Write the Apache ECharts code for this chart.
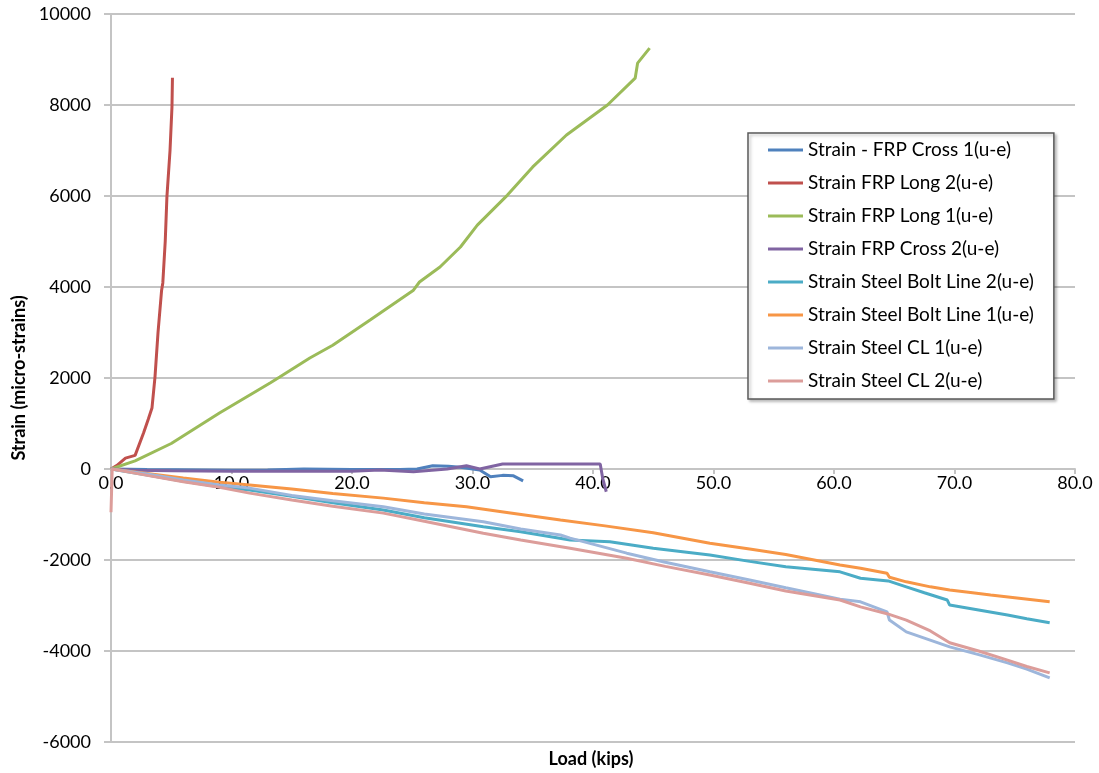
<!DOCTYPE html>
<html>
<head>
<meta charset="utf-8">
<title>Strain vs Load</title>
<script src="https://cdn.jsdelivr.net/npm/echarts@6/dist/echarts.min.js"></script>
<style>
  html, body { margin: 0; padding: 0; background: #fff; }
  #chart { width: 1099px; height: 773px; }
</style>
</head>
<body>
<div id="chart"></div>
<script>
// [load (kips), strain (micro-strains)]
const frpCross1 = [[0, 0], [3, -10], [7.5, -20], [10, -30], [13, -20], [16, 0], [20, -10], [24, -10], [25.4, 0], [26.7, 70], [28, 60], [29, 40], [30.6, -20], [31.5, -170], [32.5, -140], [33.4, -150], [34.2, -260]];
const frpLong2 = [[0, 0], [0.5, 80], [1.2, 240], [2.0, 300], [2.7, 790], [3.1, 1100], [3.4, 1340], [3.65, 2020], [3.9, 2990], [4.2, 3930], [4.3, 4090], [4.5, 5000], [4.64, 5980], [4.9, 7010], [5.06, 7960], [5.1, 8600]];
const frpLong1 = [[0, 0], [2, 180], [5, 560], [9, 1230], [13.2, 1890], [14, 2020], [16.5, 2440], [18.4, 2720], [21.5, 3275], [25.1, 3930], [25.6, 4110], [27.3, 4440], [29, 4880], [30.4, 5360], [32.9, 6020], [35, 6640], [37.8, 7340], [41.2, 8000], [43.5, 8590], [43.7, 8920], [44.7, 9250]];
const frpCross2 = [[0, 0], [2, -30], [5, -40], [10, -50], [15, -50], [20, -50], [22.3, -20], [25.1, -60], [27.9, 0], [29.5, 70], [30.6, 0], [32.5, 110], [36, 110], [40.6, 110], [40.8, -200], [41.1, -500]];
const boltLine2 = [[0, 0], [3, -130], [6, -270], [9, -390], [11.5, -460], [15, -600], [18.4, -740], [22.6, -900], [26, -1070], [30.9, -1270], [34, -1380], [38.1, -1560], [41.4, -1600], [45, -1740], [49.7, -1890], [53, -2030], [56, -2150], [60.5, -2260], [62.2, -2400], [64.5, -2460], [66, -2590], [67.5, -2720], [69.4, -2880], [69.6, -2990], [72, -3100], [74.4, -3210], [76, -3290], [77.9, -3380]];
const boltLine1 = [[0, 0], [3, -100], [6, -200], [9, -290], [11.5, -350], [15, -440], [18.4, -540], [22.6, -640], [26, -740], [29.5, -830], [33, -960], [37.3, -1120], [41, -1250], [45, -1400], [49.7, -1630], [53, -1760], [56, -1880], [60.5, -2110], [62.2, -2180], [64.4, -2290], [64.6, -2380], [66, -2480], [68, -2590], [69.6, -2660], [71.5, -2720], [73, -2770], [75, -2830], [77.9, -2920]];
const steelCL1 = [[0, 0], [3, -110], [6, -240], [9, -350], [11.5, -420], [15, -580], [18.4, -700], [22.6, -830], [26, -990], [30.9, -1160], [34, -1320], [37.3, -1450], [38.1, -1520], [42.8, -1850], [46, -2050], [49.7, -2260], [53, -2440], [56, -2610], [60.5, -2860], [62.2, -2920], [64.4, -3140], [64.6, -3320], [66, -3580], [69.6, -3910], [72, -4080], [74.4, -4260], [76, -4400], [77.9, -4590]];
const steelCL2 = [[0, -950], [0.1, 0], [3, -140], [6, -280], [9, -400], [11.5, -530], [15, -680], [18.4, -820], [22.6, -970], [26, -1150], [30.9, -1410], [34, -1560], [38.1, -1740], [42.8, -1960], [46, -2140], [49.7, -2330], [53, -2510], [56, -2680], [60.5, -2880], [62.2, -3030], [64.4, -3180], [66, -3320], [68, -3560], [69.6, -3820], [72, -4000], [74.4, -4200], [76, -4340], [77.9, -4480]];

const seriesNames = [
  "Strain - FRP Cross 1(u-e)",
  "Strain FRP Long 2(u-e)",
  "Strain FRP Long 1(u-e)",
  "Strain FRP Cross 2(u-e)",
  "Strain Steel Bolt Line 2(u-e)",
  "Strain Steel Bolt Line 1(u-e)",
  "Strain Steel CL 1(u-e)",
  "Strain Steel CL 2(u-e)"
];
const seriesData = [frpCross1, frpLong2, frpLong1, frpCross2, boltLine2, boltLine1, steelCL1, steelCL2];
const colors = ["#4F81BD", "#C0504D", "#9BBB59", "#8064A2", "#4BACC6", "#F79646", "#9DB6DB", "#DC9D9A"];

const font = "Lato";
const gridGray = "#c4c4c4";

const makeSeries = (name, data, i) => {
  return {
    name: name,
    type: "line",
    data: data,
    showSymbol: false,
    symbol: "none",
    smooth: false,
    lineStyle: { width: 3, color: colors[i] },
    itemStyle: { color: colors[i] },
    z: 2 + i
  };
};

const chart = echarts.init(document.getElementById("chart"));
chart.setOption({
  animation: false,
  color: colors,
  grid: { left: 111, right: 24, top: 14, bottom: 31, containLabel: false },
  legend: {
    orient: "vertical",
    left: 748,
    top: 133,
    padding: [7, 20, 8, 20],
    itemGap: 13,
    itemWidth: 35,
    itemHeight: 3,
    icon: "rect",
    borderColor: "#5a5a5a",
    borderWidth: 1.5,
    backgroundColor: "#fff",
    shadowColor: "rgba(0,0,0,0.25)",
    shadowBlur: 3,
    shadowOffsetX: 2,
    shadowOffsetY: 2,
    textStyle: { fontFamily: font, fontSize: 19, color: "#000", lineHeight: 20 },
    data: seriesNames
  },
  xAxis: {
    type: "value",
    min: 0,
    max: 80,
    interval: 10,
    position: "bottom",
    // axis sits on the zero line: 742 - 469 px
    offset: -273,
    axisLine: { onZero: false, lineStyle: { color: gridGray, width: 2 } },
    axisTick: { show: true, length: 5, lineStyle: { color: gridGray, width: 2 } },
    axisLabel: {
      margin: 5,
      fontFamily: font,
      fontSize: 18,
      color: "#000",
      formatter: (v) => v.toFixed(1)
    },
    splitLine: { show: false }
  },
  yAxis: {
    type: "value",
    min: -6000,
    max: 10000,
    interval: 2000,
    name: "Strain (micro-strains)",
    nameLocation: "middle",
    nameGap: 82,
    nameRotate: 90,
    nameTextStyle: { fontFamily: font, fontSize: 18, fontWeight: "bold", color: "#000" },
    axisLine: { show: true, onZero: false, lineStyle: { color: gridGray, width: 2 } },
    axisTick: { show: true, length: 7, lineStyle: { color: gridGray, width: 2 } },
    axisLabel: {
      margin: 20,
      fontFamily: font,
      fontSize: 18,
      color: "#000",
      formatter: (v) => String(v)
    },
    splitLine: { show: true, lineStyle: { color: gridGray, width: 2 } }
  },
  graphic: [
    {
      type: "text",
      x: 591,
      y: 750,
      style: {
        text: "Load (kips)",
        font: "bold 18px " + font,
        fill: "#000",
        textAlign: "center"
      }
    }
  ],
  series: seriesNames.map((n, i) => makeSeries(n, seriesData[i], i))
});
</script>
</body>
</html>
